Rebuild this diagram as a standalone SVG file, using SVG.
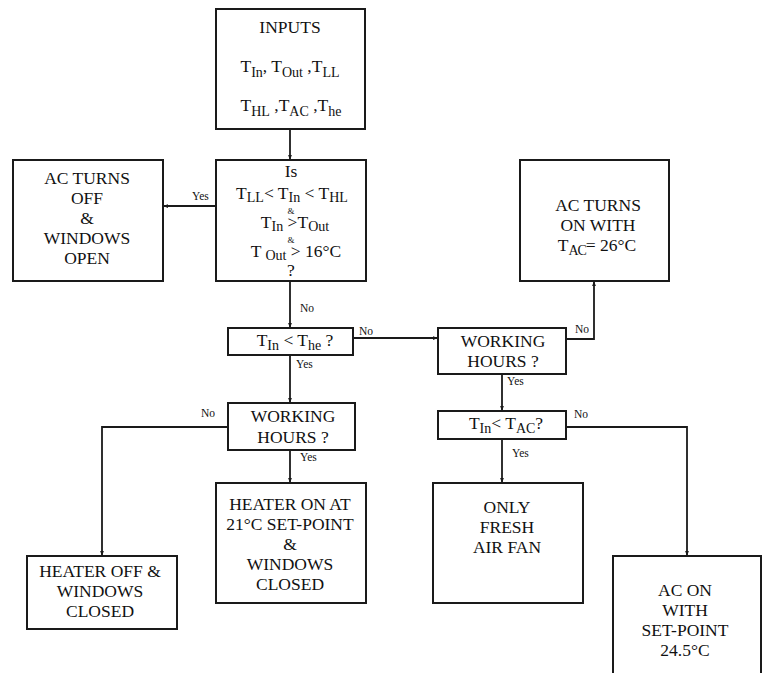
<svg xmlns="http://www.w3.org/2000/svg" width="762" height="673" viewBox="0 0 762 673">
<style>
.box{fill:#fff;stroke:#1a1a1a;stroke-width:2}
.t{font-family:'Liberation Serif','DejaVu Serif','Times New Roman',serif;font-size:17.5px;fill:#111;text-anchor:middle}
.s{font-size:14px}
.amp{font-family:'Liberation Serif','DejaVu Serif','Times New Roman',serif;font-size:9px;fill:#111;text-anchor:middle}
.lbl{font-family:'Liberation Serif','DejaVu Serif','Times New Roman',serif;font-size:11.5px;fill:#111}
.c{fill:none;stroke:#1a1a1a;stroke-width:1.8;marker-end:url(#ah)}
</style>
<defs>
<marker id="ah" viewBox="0 0 8 6" refX="8" refY="3" markerWidth="5" markerHeight="4" orient="auto" markerUnits="userSpaceOnUse">
<path d="M0,0 L8,3 L0,6 z" fill="#1a1a1a"/>
</marker>
</defs>
<rect width="762" height="673" fill="#fff"/>
<g id="connectors">
<path class="c" d="M290,129 V160"/>
<path class="c" d="M216,206 H163"/>
<path class="c" d="M290,281 V328"/>
<path class="c" d="M353,338 H438"/>
<path class="c" d="M290,355 V403"/>
<path class="c" d="M228,427 H102 V556"/>
<path class="c" d="M290,450 V483"/>
<path class="c" d="M566,339 H594 V281"/>
<path class="c" d="M502,374 V411"/>
<path class="c" d="M502,439 V483"/>
<path class="c" d="M566,427 H687 V556"/>
<text class="lbl" x="192" y="200">Yes</text>
<text class="lbl" x="300" y="312">No</text>
<text class="lbl" x="359" y="335">No</text>
<text class="lbl" x="296" y="368">Yes</text>
<text class="lbl" x="201" y="417">No</text>
<text class="lbl" x="300" y="461">Yes</text>
<text class="lbl" x="575" y="333">No</text>
<text class="lbl" x="507" y="385">Yes</text>
<text class="lbl" x="574" y="418">No</text>
<text class="lbl" x="512" y="457">Yes</text>
</g>
<g id="inputs">
<rect class="box" x="216" y="9" width="149" height="120"/>
<text class="t" x="290" y="33">INPUTS</text>
<text class="t" x="290" y="72">T<tspan class="s" dy="5">In</tspan><tspan dy="-5">, T</tspan><tspan class="s" dy="5">Out</tspan><tspan dy="-5"> ,T</tspan><tspan class="s" dy="5">LL</tspan></text>
<text class="t" x="291" y="111">T<tspan class="s" dy="5">HL</tspan><tspan dy="-5"> ,T</tspan><tspan class="s" dy="5">AC</tspan><tspan dy="-5"> ,T</tspan><tspan class="s" dy="5">he</tspan></text>
</g>
<g id="decision">
<rect class="box" x="216" y="160" width="150" height="121"/>
<text class="t" x="291" y="177">Is</text>
<text class="t" x="292" y="199">T<tspan class="s" dy="3">LL</tspan><tspan dy="-3">&lt;  T</tspan><tspan class="s" dy="3">In</tspan><tspan dy="-3"> &lt; T</tspan><tspan class="s" dy="3">HL</tspan></text>
<text class="amp" x="291" y="214">&amp;</text>
<text class="t" x="295" y="228">T<tspan class="s" dy="3">In</tspan><tspan dy="-3"> &gt;T</tspan><tspan class="s" dy="3">Out</tspan></text>
<text class="amp" x="291" y="243">&amp;</text>
<text class="t" x="296" y="257">T <tspan class="s" dy="3">Out</tspan><tspan dy="-3"> &gt;  16°C</tspan></text>
<text class="t" x="291" y="276">?</text>
</g>
<g id="ac-off">
<rect class="box" x="13" y="160" width="150" height="121"/>
<text class="t" x="87" y="184">AC TURNS</text>
<text class="t" x="87" y="204">OFF</text>
<text class="t" x="87" y="224">&amp;</text>
<text class="t" x="87" y="244">WINDOWS</text>
<text class="t" x="87" y="264">OPEN</text>
</g>
<g id="ac-on-26">
<rect class="box" x="520" y="160" width="149" height="121"/>
<text class="t" x="598" y="211">AC TURNS</text>
<text class="t" x="598" y="231">ON WITH</text>
<text class="t" x="597" y="251">T<tspan class="s" dy="4" letter-spacing="-1">AC</tspan><tspan dy="-4">= 26°C</tspan></text>
</g>
<g id="tin-the">
<rect class="box" x="228" y="328" width="125" height="27"/>
<text class="t" x="295" y="346">T<tspan class="s" dy="4">In</tspan><tspan dy="-4"> &lt; T</tspan><tspan class="s" dy="4">he</tspan><tspan dy="-4"> ?</tspan></text>
</g>
<g id="working-hours-left">
<rect class="box" x="228" y="403" width="127" height="47"/>
<text class="t" x="293" y="422">WORKING</text>
<text class="t" x="293" y="443">HOURS ?</text>
</g>
<g id="working-hours-right">
<rect class="box" x="438" y="328" width="128" height="46"/>
<text class="t" x="503" y="347">WORKING</text>
<text class="t" x="503" y="367">HOURS ?</text>
</g>
<g id="tin-tac">
<rect class="box" x="438" y="411" width="128" height="28"/>
<text class="t" x="506" y="429">T<tspan class="s" dy="4">In</tspan><tspan dy="-4">&lt; T</tspan><tspan class="s" dy="4">AC</tspan><tspan dy="-4">?</tspan></text>
</g>
<g id="heater-off">
<rect class="box" x="27" y="556" width="150" height="73"/>
<text class="t" x="100" y="577">HEATER OFF &amp;</text>
<text class="t" x="100" y="597">WINDOWS</text>
<text class="t" x="100" y="617">CLOSED</text>
</g>
<g id="heater-on">
<rect class="box" x="216" y="483" width="150" height="120"/>
<text class="t" x="290" y="510">HEATER ON AT</text>
<text class="t" x="290" y="530">21°C SET-POINT</text>
<text class="t" x="290" y="550">&amp;</text>
<text class="t" x="290" y="570">WINDOWS</text>
<text class="t" x="290" y="590">CLOSED</text>
</g>
<g id="fresh-air">
<rect class="box" x="433" y="483" width="150" height="120"/>
<text class="t" x="507" y="513">ONLY</text>
<text class="t" x="507" y="533">FRESH</text>
<text class="t" x="507" y="553">AIR FAN</text>
</g>
<g id="ac-on-245">
<rect class="box" x="613" y="556" width="148" height="130"/>
<text class="t" x="685" y="596">AC ON</text>
<text class="t" x="685" y="616">WITH</text>
<text class="t" x="685" y="636">SET-POINT</text>
<text class="t" x="685" y="656">24.5°C</text>
</g>
</svg>
